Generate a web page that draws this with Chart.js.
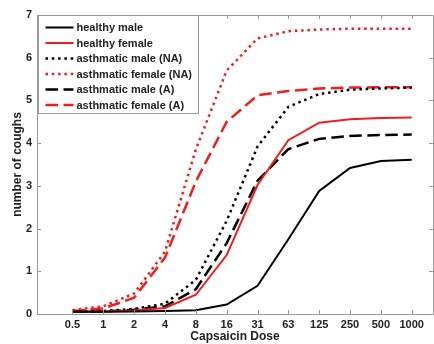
<!DOCTYPE html>
<html>
<head>
<meta charset="utf-8">
<script src="https://cdn.jsdelivr.net/npm/chart.js@4.4.1/dist/chart.umd.min.js"></script>
<style>
  html, body { margin: 0; padding: 0; background: #fff; }
  #wrap { width: 434px; height: 344px; }
</style>
</head>
<body>
<div id="wrap"><canvas id="coughs" width="434" height="344"></canvas></div>
<script>
// --- data: mean coughs per capsaicin dose ---
const doses = ['0.5', '1', '2', '4', '8', '16', '31', '63', '125', '250', '500', '1000'];
const yTicks = [0, 1, 2, 3, 4, 5, 6, 7];

const healthyMale       = [0.05, 0.05, 0.06, 0.07, 0.09, 0.22, 0.66, 1.75, 2.88, 3.42, 3.58, 3.61];
const healthyFemale     = [0.06, 0.06, 0.08, 0.14, 0.45, 1.38, 3.02, 4.07, 4.48, 4.56, 4.59, 4.60];
const asthmaticMaleNA   = [0.06, 0.07, 0.12, 0.24, 0.80, 2.18, 3.92, 4.85, 5.15, 5.25, 5.28, 5.30];
const asthmaticFemaleNA = [0.09, 0.18, 0.48, 1.46, 3.85, 5.70, 6.45, 6.62, 6.66, 6.68, 6.68, 6.68];
const asthmaticMaleA    = [0.05, 0.06, 0.10, 0.18, 0.58, 1.66, 3.12, 3.86, 4.10, 4.17, 4.19, 4.20];
const asthmaticFemaleA  = [0.07, 0.13, 0.38, 1.32, 3.10, 4.50, 5.12, 5.22, 5.28, 5.30, 5.31, 5.31];

const RED = '#f21c1c';
const BLACK = '#000000';
const FRAME = '#9a9a9a';
const FONT = '"Liberation Sans", Arial, sans-serif';

const DOTS = [2.5, 3.8];
const DASHES = [12.5, 5.5];

function series(label, values, color, dash, width) {
    return {
        label: label,
        data: values.map((v, i) => ({ x: i + 1, y: v })),
        borderColor: color,
        backgroundColor: color,
        borderWidth: width,
        borderDash: dash,
        borderCapStyle: 'butt',
        pointRadius: 0,
        tension: 0,
        fill: false
    };
}

// frame with inward tick marks, plotting-software style
const framePlugin = {
    id: 'frame',
    afterDraw(chart) {
        const { ctx, chartArea: a, scales: { x, y } } = chart;
        ctx.save();
        ctx.strokeStyle = FRAME;
        ctx.lineWidth = 1;
        ctx.beginPath();
        ctx.moveTo(a.left + 0.5, a.bottom + 0.5);
        ctx.lineTo(a.left + 0.5, a.top + 0.5);
        ctx.lineTo(a.right + 0.5, a.top + 0.5);
        ctx.lineTo(a.right + 0.5, a.bottom + 0.5);
        ctx.lineTo(a.left + 0.5, a.bottom + 0.5);
        const len = 4;
        doses.forEach((d, i) => {
            const px = Math.round(x.getPixelForValue(i + 1)) + 0.5;
            ctx.moveTo(px, a.bottom);
            ctx.lineTo(px, a.bottom - len);
            ctx.moveTo(px, a.top);
            ctx.lineTo(px, a.top + len);
        });
        yTicks.forEach(v => {
            const py = Math.round(y.getPixelForValue(v)) + 0.5;
            ctx.moveTo(a.left, py);
            ctx.lineTo(a.left + len, py);
            ctx.moveTo(a.right, py);
            ctx.lineTo(a.right - len, py);
        });
        ctx.stroke();
        ctx.restore();
    }
};

// boxed legend in the upper-left corner of the plot
const legendPlugin = {
    id: 'boxLegend',
    afterDraw(chart) {
        const { ctx, chartArea: a } = chart;
        const box = { x: a.left + 1.5, y: a.top + 0.5, w: 160, h: 98 };
        ctx.save();
        ctx.fillStyle = '#fff';
        ctx.fillRect(box.x, box.y, box.w, box.h);
        ctx.strokeStyle = FRAME;
        ctx.lineWidth = 1;
        ctx.strokeRect(box.x, box.y, box.w, box.h);

        ctx.font = 'bold 11px ' + FONT;
        ctx.textBaseline = 'middle';
        chart.data.datasets.forEach((ds, i) => {
            const rowY = box.y + 12 + i * 15.5;
            ctx.strokeStyle = ds.borderColor;
            ctx.lineWidth = ds.borderWidth;
            ctx.setLineDash(ds.borderDash || []);
            ctx.beginPath();
            ctx.moveTo(box.x + 7, rowY);
            ctx.lineTo(box.x + 35, rowY);
            ctx.stroke();
            ctx.setLineDash([]);
            ctx.fillStyle = '#222';
            ctx.fillText(ds.label, box.x + 38, rowY + 0.5);
        });
        ctx.restore();
    }
};

const datasets = [
    series('healthy male', healthyMale, BLACK, [], 2),
    series('healthy female', healthyFemale, RED, [], 2),
    series('asthmatic male (NA)', asthmaticMaleNA, BLACK, DOTS, 2.5),
    series('asthmatic female (NA)', asthmaticFemaleNA, RED, DOTS, 2.5),
    series('asthmatic male (A)', asthmaticMaleA, BLACK, DASHES, 2.5),
    series('asthmatic female (A)', asthmaticFemaleA, RED, DASHES, 2.5)
];

new Chart(document.getElementById('coughs'), {
    type: 'line',
    data: { datasets: datasets },
    plugins: [framePlugin, legendPlugin],
    options: {
        responsive: false,
        animation: false,
        layout: { padding: { top: 15, right: 1, left: 0, bottom: 0 } },
        plugins: { legend: { display: false }, tooltip: { enabled: false } },
        scales: {
            x: {
                type: 'linear',
                min: -0.15,
                max: 12.69,
                afterBuildTicks: (scale) => {
                    scale.ticks = doses.map((d, i) => ({ value: i + 1 }));
                },
                afterFit: (scale) => { scale.height = 30; },
                grid: { display: false, drawTicks: false, tickLength: 0 },
                border: { display: false },
                ticks: {
                    autoSkip: false,
                    maxRotation: 0,
                    padding: 4,
                    color: '#222',
                    font: { family: FONT, size: 11, weight: 'bold' },
                    callback: (v) => doses[v - 1]
                },
                title: {
                    display: true,
                    text: 'Capsaicin Dose',
                    color: '#222',
                    padding: { top: 0, bottom: 0 },
                    font: { family: FONT, size: 12, weight: 'bold' }
                }
            },
            y: {
                min: 0,
                max: 7,
                afterBuildTicks: (scale) => {
                    scale.ticks = yTicks.map(v => ({ value: v }));
                },
                afterFit: (scale) => { scale.width = 37; },
                grid: { display: false, drawTicks: false, tickLength: 0 },
                border: { display: false },
                ticks: {
                    padding: 5,
                    color: '#222',
                    font: { family: FONT, size: 11, weight: 'bold' }
                },
                title: {
                    display: true,
                    text: 'number of coughs',
                    color: '#222',
                    padding: { top: 10, bottom: 0 },
                    font: { family: FONT, size: 12, weight: 'bold' }
                }
            }
        }
    }
});
</script>
</body>
</html>
